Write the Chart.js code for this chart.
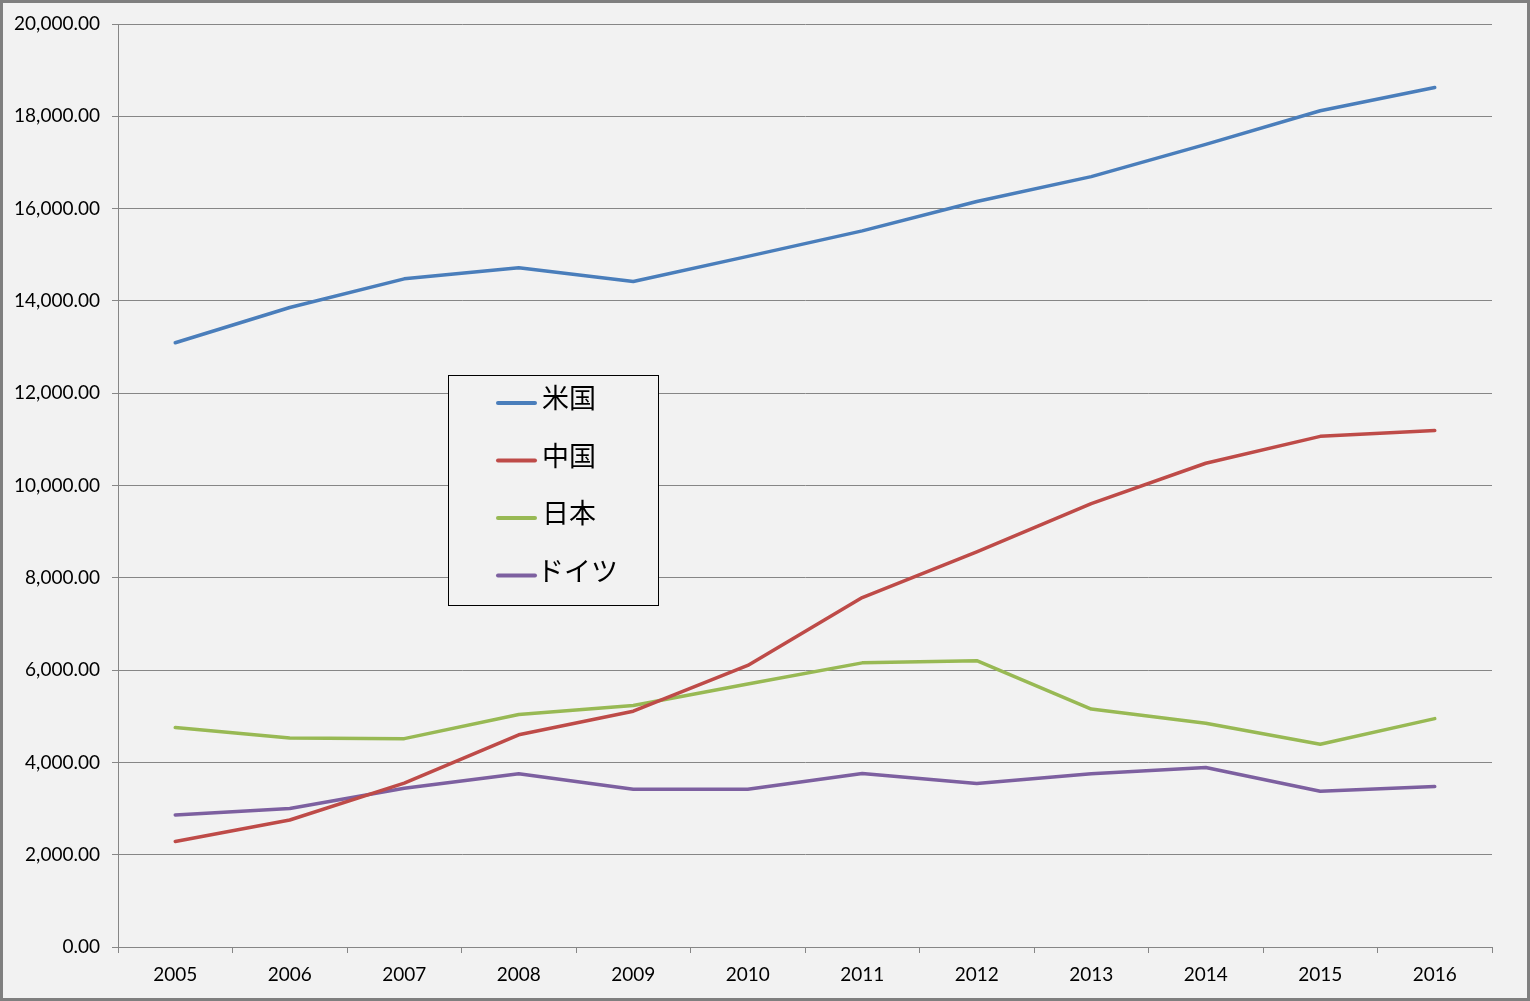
<!DOCTYPE html>
<html>
<head>
<meta charset="utf-8">
<script src="https://cdn.jsdelivr.net/npm/chart.js@4/dist/chart.umd.min.js"></script>
<style>
  html, body { margin: 0; padding: 0; background: #f2f2f2; }
  #wrap { position: absolute; left: 0; top: 0; width: 1530px; height: 1001px; }
</style>
</head>
<body>
<div id="wrap"><canvas id="chart" width="1530" height="1001"></canvas></div>
<script>
// chart data
const years = ['2005', '2006', '2007', '2008', '2009', '2010', '2011', '2012', '2013', '2014', '2015', '2016'];
const usa = [13093, 13856, 14478, 14719, 14419, 14964, 15518, 16155, 16692, 17393, 18121, 18624];
const china = [2286, 2752, 3552, 4598, 5110, 6101, 7573, 8561, 9607, 10482, 11065, 11191];
const japan = [4755, 4530, 4515, 5038, 5231, 5700, 6157, 6203, 5155, 4850, 4395, 4949];
const germany = [2861, 3002, 3440, 3752, 3418, 3417, 3758, 3544, 3753, 3890, 3375, 3477];
const seriesNames = ['米国', '中国', '日本', 'ドイツ'];
const yTicks = { min: 0, max: 20000, step: 2000 };

const gridColor = '#868686';
const tickFont = { family: 'Lato', size: 19 };

// background + outer frame
const frame = {
  id: 'frame',
  beforeDraw(chart) {
    const c = chart.ctx;
    c.save();
    c.fillStyle = '#f2f2f2';
    c.fillRect(0, 0, chart.width, chart.height);
    c.strokeStyle = '#7f7f7f';
    c.lineWidth = 3;
    c.strokeRect(1.5, 1.5, chart.width - 3, chart.height - 3);
    c.restore();
  }
};

// boxed legend in the middle of the plot, like the original
const boxLegend = {
  id: 'boxLegend',
  afterDraw(chart) {
    const c = chart.ctx;
    const x = 448.5, y = 375.5, w = 210, h = 230;
    c.save();
    c.fillStyle = '#f2f2f2';
    c.fillRect(x, y, w, h);
    c.strokeStyle = '#000';
    c.lineWidth = 1;
    c.strokeRect(x, y, w, h);
    c.font = '27px "Noto Sans CJK JP"';
    c.textBaseline = 'middle';
    chart.data.datasets.forEach((ds, i) => {
      const ly = 403 + i * 57.5;
      c.strokeStyle = ds.borderColor;
      c.lineWidth = 4;
      c.lineCap = 'round';
      c.beginPath();
      c.moveTo(498, ly);
      c.lineTo(535, ly);
      c.stroke();
      c.fillStyle = '#000';
      c.fillText(ds.label, i === 3 ? 537 : 542, ly - 5);
    });
    c.restore();
  }
};

function mkSet(label, data, color) {
  return {
    label: label,
    data: data,
    borderColor: color,
    backgroundColor: color,
    borderWidth: 3.5,
    pointRadius: 0,
    tension: 0,
    borderCapStyle: 'round',
    borderJoinStyle: 'round',
    fill: false
  };
}

new Chart(document.getElementById('chart'), {
  type: 'line',
  data: {
    labels: years,
    datasets: [
      mkSet(seriesNames[0], usa, '#4a7ebb'),
      mkSet(seriesNames[1], china, '#be4b48'),
      mkSet(seriesNames[2], japan, '#98b954'),
      mkSet(seriesNames[3], germany, '#7d60a0')
    ]
  },
  options: {
    responsive: false,
    animation: false,
    devicePixelRatio: 1,
    layout: { padding: { left: 0, top: 24, right: 38, bottom: 0 } },
    plugins: { legend: { display: false }, tooltip: { enabled: false } },
    scales: {
      x: {
        offset: true,
        grid: { offset: true, drawOnChartArea: false, drawTicks: true, tickLength: 6, color: gridColor },
        border: { display: true, color: gridColor },
        ticks: { color: '#000', font: tickFont, padding: 10, maxRotation: 0 },
        afterFit(scale) { scale.height = 54; }
      },
      y: {
        min: yTicks.min,
        max: yTicks.max,
        grid: { color: gridColor, tickLength: 6, drawTicks: true },
        border: { display: true, color: gridColor },
        ticks: {
          stepSize: yTicks.step,
          color: '#000',
          font: tickFont,
          padding: 12,
          callback: v => v.toLocaleString('en-US', { minimumFractionDigits: 2, maximumFractionDigits: 2 })
        },
        afterFit(scale) { scale.width = 118; }
      }
    }
  },
  plugins: [frame, boxLegend]
});
</script>
</body>
</html>
